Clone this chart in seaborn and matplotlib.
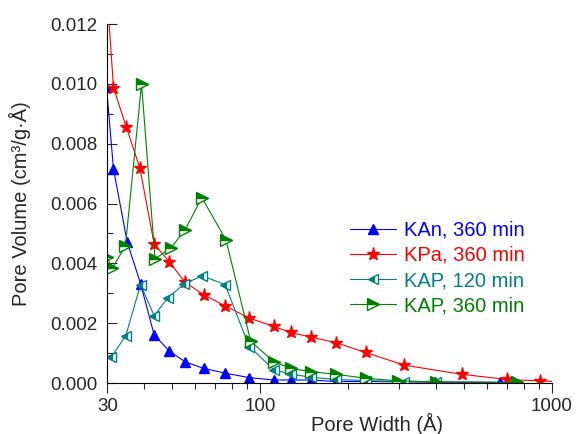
import numpy as np
import pandas as pd
import seaborn as sns
import matplotlib.pyplot as plt
from matplotlib.ticker import FixedLocator, MultipleLocator, NullFormatter

# ===== DATA =====
kan_x = [29.8, 31.5, 35.1, 39.0, 43.4, 48.9, 55.4, 64.1, 75.9, 91.9, 111.6, 127.4, 149.9, 182, 230, 397, 663]
kan_y = [0.0099, 0.00715, 0.00471, 0.00332, 0.00161, 0.00107, 0.00071, 0.00049, 0.00033, 0.00018,
         0.0001, 0.0001, 0.0001, 0.00005, 0.00005, 0.00003, 0.00002]

kpa_x = [30.1, 31.5, 34.8, 38.8, 43.4, 48.9, 55.4, 64.1, 75.9, 91.9, 111.6, 127.4, 149.9, 182, 230,
         311, 491, 700, 909, 1100]
kpa_y = [0.0127, 0.00987, 0.00857, 0.00718, 0.00465, 0.00405, 0.00337, 0.00295, 0.00258, 0.00217,
         0.00189, 0.00169, 0.00153, 0.00135, 0.00102, 0.0006, 0.00029, 0.00012, 0.00007, 0.00004]

kap120_x = [31.0, 34.7, 39.0, 43.4, 48.3, 55.1, 63.5, 75.9, 91.9, 111.6, 127.4, 150, 182, 230, 311, 400]
kap120_y = [0.00088, 0.00158, 0.00329, 0.00225, 0.00284, 0.00332, 0.00358, 0.00329, 0.00122,
            0.00044, 0.0003, 0.00019, 0.00012, 0.00008, 0.00005, 0.00004]

kap360_x = [29.9, 31.2, 34.6, 39.3, 43.7, 49.6, 55.5, 63.2, 76.5, 93, 111.6, 127.4, 150, 182, 230,
            298, 400, 757]
kap360_y = [0.0042, 0.00385, 0.00457, 0.0100, 0.00415, 0.00452, 0.00513, 0.0062, 0.00478, 0.00139,
            0.00071, 0.00049, 0.00038, 0.00029, 0.00016, 0.00007, 0.00004, 0.00002]

labels = ["KAn, 360 min", "KPa, 360 min", "KAP, 120 min", "KAP, 360 min"]
colors = ["#0000FF", "#FF0000", "#008080", "#008000"]

# ===== STYLE =====
sns.set_style("ticks")
plt.rcParams['font.family'] = ['Liberation Sans', 'DejaVu Sans']

fig = plt.figure(figsize=(5.76, 4.34), dpi=100)
ax = fig.add_axes([0.1863, 0.1175, 0.772, 0.8272])

series = [
    (kan_x, kan_y, dict(marker="^", markersize=7.5)),
    (kpa_x, kpa_y, dict(marker="*", markersize=9.5)),
    (kap120_x, kap120_y, dict(marker="<", markersize=7.5, fillstyle="left", markerfacecoloralt="white")),
    (kap360_x, kap360_y, dict(marker=">", markersize=8, fillstyle="top", markerfacecoloralt="white")),
]

for (xs, ys, mk), lab, col in zip(series, labels, colors):
    df = pd.DataFrame({"Pore Width": xs, "Pore Volume": ys})
    sns.lineplot(data=df, x="Pore Width", y="Pore Volume", ax=ax, color=col, label=lab,
                 sort=False, estimator=None, linewidth=0.8,
                 markeredgecolor=col, markerfacecolor=col, markeredgewidth=1.0, **mk)

ax.set_xscale("log")
ax.set_xlim(30, 1000)
ax.set_ylim(0, 0.012)

ax.xaxis.set_major_locator(FixedLocator([30, 100, 1000]))
ax.set_xticklabels(["30", "100", "1000"])
ax.xaxis.set_minor_locator(FixedLocator(list(range(40, 100, 10)) + list(range(200, 1000, 100))))
ax.xaxis.set_minor_formatter(NullFormatter())
ax.yaxis.set_major_locator(MultipleLocator(0.002))
ax.yaxis.set_minor_locator(MultipleLocator(0.001))
ax.yaxis.set_major_formatter(plt.FormatStrFormatter("%.3f"))

ax.tick_params(axis="x", which="major", direction="out", length=7, width=0.8, labelsize=13.5, pad=4)
ax.tick_params(axis="x", which="minor", direction="out", length=4, width=0.8)
ax.tick_params(axis="y", which="major", direction="in", length=7, width=0.8, labelsize=13.5, pad=7)
ax.tick_params(axis="y", which="minor", direction="in", length=4, width=0.8)
for s in ["left", "bottom"]:
    ax.spines[s].set_linewidth(0.8)
    ax.spines[s].set_color("black")
sns.despine(ax=ax)

ax.set_xlabel("Pore Width (Å)", fontsize=14.5)
ax.set_ylabel("Pore Volume (cm³/g·Å)", fontsize=14.5)
ax.xaxis.set_label_coords(0.606, -0.083)
ax.xaxis.label.set_va("top")
ax.yaxis.set_label_coords(-0.171, 0.5)

ax.legend(loc="center left", bbox_to_anchor=(0.6076, 0.3825), bbox_transform=fig.transFigure,
          frameon=False, fontsize=14.5, labelcolor="linecolor", numpoints=1,
          handlelength=2.3, handletextpad=0.4, labelspacing=0.3, borderpad=0, borderaxespad=0)

fig.savefig("out.png", dpi=100)
